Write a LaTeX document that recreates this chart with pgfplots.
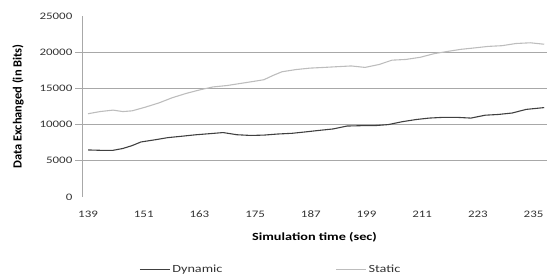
\documentclass[border=0pt]{standalone}
\usepackage{fontspec}
\setmainfont[FakeStretch=1.3]{Carlito}
\newfontfamily\ylabfont{Carlito}
\usepackage{pgfplots}
\pgfplotsset{compat=1.18}
\definecolor{dyn}{HTML}{404040}
\definecolor{sta}{HTML}{BDBDBD}
\definecolor{grd}{HTML}{A8A8A8}
\begin{document}
\begin{tikzpicture}
\useasboundingbox (-82bp,-79bp) rectangle (465bp,197bp);
\begin{axis}[
  scale only axis, width=465bp, height=181bp,
  xmin=137.7, xmax=237.9, ymin=0, ymax=25000,
  axis lines=left,
  x axis line style={draw=none},
  y axis line style={-, draw=grd, line width=0.8pt},
  xtick={139,151,...,235}, ytick={0,5000,...,25000},
  xtick style={draw=none}, ytick style={draw=none},
  extra y ticks={5000,10000,15000,20000}, extra y tick labels={},
  extra y tick style={grid=major, major grid style={draw=grd, line width=0.8pt},
    tick align=outside, ytick style={draw=grd, line width=0.8pt}, major tick length=7bp},
  /pgf/number format/assume math mode=true,
  scaled y ticks=false,
  yticklabel={\pgfmathprintnumber[fixed,1000 sep={}]{\tick}},
  tick label style={font=\fontsize{10}{12}\selectfont, text=black!80},
  yticklabel style={xshift=-4bp},
  xticklabel style={yshift=-8bp},
  xlabel={Simulation time (sec)},
  ylabel={\ylabfont\bfseries Data Exchanged (in Bits)},
  xlabel style={font=\fontsize{11}{13}\selectfont\bfseries, at={(axis description cs:0.5,-0.221)}, anchor=center},
  every axis y label/.style={at={(axis description cs:-0.1376,0.5)}, rotate=90, anchor=center,
    font=\fontsize{12.5}{14}\selectfont},
  legend columns=2,
  legend style={at={(axis description cs:0.406,-0.403)}, anchor=center, draw=none, fill=none,
    font=\fontsize{11}{13}\selectfont, text=black!80,
    /tikz/every even column/.append style={column sep=111bp}},
  legend image code/.code={\draw[#1] (0bp,0bp) -- (30bp,0bp);},
]
\addplot[dyn, line width=1.1pt, no markers] coordinates {
(139,6500) (141.6,6450) (144.4,6450) (146.5,6700) (148.5,7100) (150.4,7600)
(153.4,7900) (156.2,8200) (159.3,8400) (162.3,8600) (165.3,8750) (168.1,8900)
(171.1,8600) (174.1,8500) (176.9,8550) (179.9,8700) (183,8800) (186,9000)
(188.8,9200) (191.8,9400) (194.8,9800) (197.8,9850) (200.6,9850) (203.7,10000)
(206.7,10400) (209.7,10700) (212.5,10900) (215.5,11000) (218.5,11000) (221.5,10900)
(224.6,11300) (227.4,11400) (230.4,11600) (233.4,12100) (237.3,12350)
};
\addlegendentry{Dynamic}
\addplot[sta, line width=1.1pt, no markers] coordinates {
(139,11500) (141.6,11800) (144.4,12000) (146.5,11800) (148.5,11900) (151.3,12400)
(154.3,13000) (157.1,13700) (160.1,14300) (163.1,14800) (165.9,15200) (169,15400)
(172,15700) (175,16000) (176.9,16200) (178.9,16800) (180.8,17300) (183.8,17600)
(186.8,17800) (189.9,17900) (192.7,18000) (195.7,18100) (198.7,17900) (201.7,18300)
(204.5,18900) (207.5,19000) (210.6,19300) (213.6,19800) (216.4,20100) (219.4,20400)
(222.4,20600) (225.2,20800) (228.2,20900) (231.2,21200) (234.3,21300) (237.3,21100)
};
\addlegendentry{Static}
\end{axis}
\end{tikzpicture}
\end{document}
